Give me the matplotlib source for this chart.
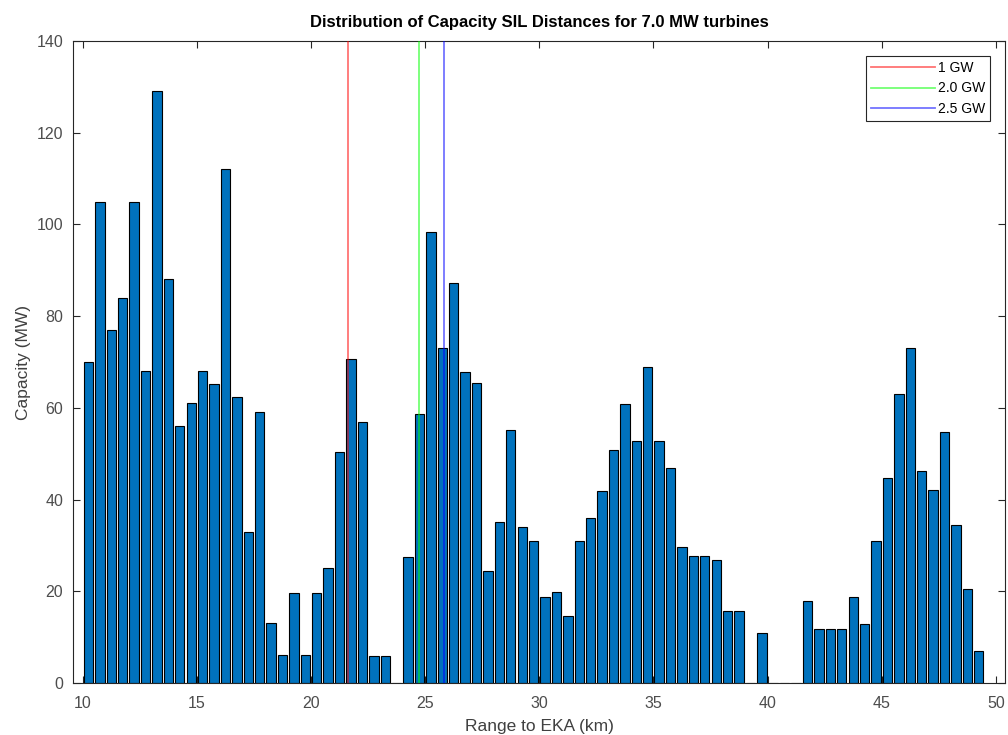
import numpy as np
import matplotlib
matplotlib.use('Agg')
import matplotlib.pyplot as plt

plt.rcParams['font.family'] = ['Liberation Sans', 'DejaVu Sans']

# ---- data (bin centres every 0.5 km, capacity in MW)
range_km = np.arange(10.25, 49.26, 0.5)
capacity = [70, 105, 77, 84, 105, 68, 129, 88, 56, 61,
            68, 65.3, 112, 62.4, 33, 59.2, 13, 6.2, 19.6, 6.2,
            19.6, 25.1, 50.3, 70.7, 56.9, 5.8, 5.8, 0, 27.4, 58.6,
            98.3, 73, 87.2, 67.8, 65.5, 24.5, 35.2, 55.1, 34.1, 30.9,
            18.7, 19.9, 14.7, 30.9, 35.9, 41.8, 50.8, 60.9, 52.8, 68.9,
            52.8, 46.8, 29.7, 27.8, 27.8, 26.8, 15.8, 15.8, 0, 11.0,
            0, 0, 0, 17.9, 11.8, 11.8, 11.8, 18.8, 12.9, 30.9,
            44.8, 63.0, 73.0, 46.3, 42.2, 54.7, 34.4, 20.5, 6.9]

gw_labels = ['1 GW', '2.0 GW', '2.5 GW']
gw_ranges = [21.6, 24.72, 25.82]
gw_colors = ['#ff0000', '#00ff00', '#0000ff']

fig = plt.figure(figsize=(10.08, 7.35), dpi=100)
ax = fig.add_axes([0.0724, 0.0707, 0.9246, 0.8735])

ax.bar(range_km, capacity, width=0.41, color='#0072BD', edgecolor='black', linewidth=0.8, zorder=2)
for r, lab, c in zip(gw_ranges, gw_labels, gw_colors):
    ax.axvline(r, color=c, alpha=0.55, linewidth=1.3, label=lab, zorder=3)

ax.set_xlim(9.57, 50.4)
ax.set_ylim(0, 140)
ax.set_xticks(np.arange(10, 51, 5))
ax.set_yticks(np.arange(0, 141, 20))
ax.tick_params(direction='in', top=True, right=True, length=5, labelsize=11.5,
               labelcolor='#4d4d4d', colors='#262626', width=0.8)
ax.tick_params(axis='x', pad=9)
ax.tick_params(axis='y', pad=7)
for s in ax.spines.values():
    s.set_color('#262626')
    s.set_linewidth(0.8)

ax.set_title('Distribution of Capacity SIL Distances for 7.0 MW turbines',
             fontsize=12, fontweight='bold', pad=10)
ax.set_xlabel('Range to EKA (km)', fontsize=12.5, color='#404040', labelpad=6)
ax.set_ylabel('Capacity (MW)', fontsize=12.5, color='#404040', labelpad=4)

leg = ax.legend(loc='upper right', fontsize=10, fancybox=False, framealpha=1,
                edgecolor='#262626', handlelength=4.6, handletextpad=0.2,
                borderaxespad=1.1, labelspacing=0.45, borderpad=0.35)
leg.get_frame().set_linewidth(0.8)

fig.savefig('out.png', dpi=100)
